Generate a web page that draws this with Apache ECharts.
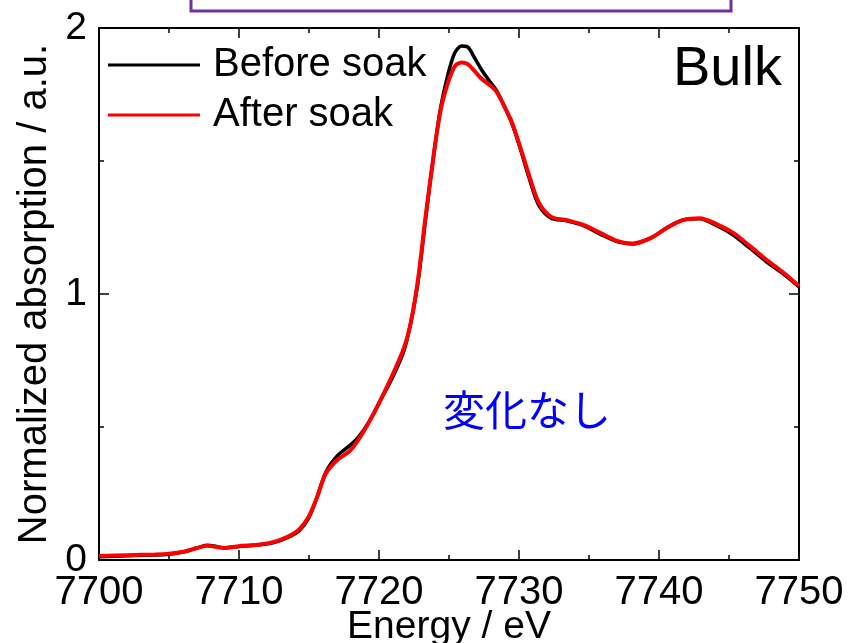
<!DOCTYPE html>
<html><head><meta charset="utf-8">
<script src="https://cdn.jsdelivr.net/npm/echarts@6/dist/echarts.min.js"></script>
<style>html,body{margin:0;padding:0;background:#fff}#c{width:848px;height:643px}</style>
</head><body><div id="c"></div>
<script>
const energy = [7700,7702,7704,7705,7706,7707,7707.7,7708.3,7708.9,7710,7711.5,7712.5,7713.5,7714.3,7715,7715.6,7716.2,7717,7717.9,7718.5,7719.3,7720,7721,7721.8,7722.3,7722.8,7723.3,7723.9,7724.4,7724.9,7725.4,7725.9,7726.3,7726.8,7727.3,7727.9,7728.4,7729.0,7729.5,7730.1,7730.7,7731.4,7732.3,7733.4,7734.6,7735.8,7737,7738.1,7739.4,7740.6,7741.7,7742.9,7744.1,7745.3,7746.5,7747.7,7748.9,7750];
const afterSoak = [0.015,0.018,0.021,0.024,0.031,0.045,0.054,0.050,0.045,0.052,0.058,0.068,0.088,0.115,0.165,0.24,0.325,0.375,0.41,0.45,0.52,0.59,0.70,0.80,0.90,1.06,1.28,1.52,1.69,1.79,1.855,1.87,1.865,1.84,1.81,1.786,1.76,1.70,1.645,1.55,1.45,1.345,1.29,1.278,1.26,1.23,1.20,1.19,1.21,1.25,1.278,1.285,1.263,1.23,1.18,1.128,1.08,1.03];
const beforeSoak = [0.012,0.016,0.019,0.022,0.030,0.045,0.055,0.052,0.046,0.051,0.057,0.066,0.085,0.110,0.160,0.24,0.33,0.39,0.43,0.46,0.52,0.59,0.69,0.79,0.90,1.05,1.27,1.52,1.70,1.82,1.905,1.932,1.93,1.89,1.845,1.80,1.765,1.70,1.64,1.545,1.44,1.335,1.285,1.275,1.257,1.225,1.197,1.188,1.21,1.25,1.278,1.283,1.258,1.222,1.172,1.12,1.075,1.027];
const seriesNames = ['Before soak','After soak'];
const xTicks = [7700,7710,7720,7730,7740,7750];
const yTicks = [0,1,2];

const font = 'Liberation Sans, Arial, sans-serif';
const chart = echarts.init(document.getElementById('c'));
const axisCommon = {
  axisLine:{show:true,onZero:false,lineStyle:{color:'#000',width:2}},
  axisTick:{show:true,inside:true,length:10,lineStyle:{color:'#000',width:1.5}},
  minorTick:{show:true,splitNumber:2,length:5,lineStyle:{color:'#000',width:1.5}},
  splitLine:{show:false}
};
chart.setOption({
  animation:false,
  grid:{left:99,right:49,top:28,bottom:83,containLabel:false,outerBoundsMode:'none'},
  legend:{
    left:103, top:40, orient:'vertical', itemGap:10,
    icon:'rect', itemWidth:92, itemHeight:3,
    textStyle:{fontFamily:font,fontSize:40,color:'#000',padding:[0,0,0,8]},
    data:seriesNames
  },
  xAxis:[
    Object.assign({type:'value',min:xTicks[0],max:xTicks[xTicks.length-1],interval:10,position:'bottom',
      name:'Energy / eV',nameLocation:'middle',nameGap:48,nameMoveOverlap:false,
      nameTextStyle:{fontFamily:font,fontSize:39,color:'#000'},
      axisLabel:{fontFamily:font,fontSize:40,color:'#000',margin:13,formatter:v=>String(v)}},axisCommon),
    Object.assign({type:'value',min:7700,max:7750,interval:10,position:'top',axisLabel:{show:false}},axisCommon)
  ],
  yAxis:[
    Object.assign({type:'value',min:yTicks[0],max:yTicks[yTicks.length-1],interval:1,position:'left',
      name:'Normalized absorption / a.u.',nameLocation:'middle',nameGap:44,nameMoveOverlap:false,
      nameTextStyle:{fontFamily:font,fontSize:40,color:'#000'},
      axisLabel:{fontFamily:font,fontSize:39,color:'#000',margin:12}},axisCommon),
    Object.assign({type:'value',min:0,max:2,interval:1,position:'right',axisLabel:{show:false}},axisCommon)
  ],
  series:[
    {name:seriesNames[0],type:'line',smooth:0.3,showSymbol:false,color:'#000',
     lineStyle:{color:'#000',width:3.5},data:energy.map((e,i)=>[e,beforeSoak[i]])},
    {name:seriesNames[1],type:'line',smooth:0.3,showSymbol:false,color:'#ff0000',
     lineStyle:{color:'#ff0000',width:4},data:energy.map((e,i)=>[e,afterSoak[i]])}
  ],
  graphic:[
    {type:'rect',shape:{x:191,y:-10,width:540,height:21},style:{fill:'#fff',stroke:'#7030A0',lineWidth:3}},
    {type:'text',x:673,y:70,style:{text:'Bulk',fontFamily:font,fontSize:56,fill:'#000',textVerticalAlign:'middle'}},
    {type:'text',x:527,y:410,style:{text:'変化なし',fontFamily:'Noto Sans CJK JP',fontSize:42,fill:'#0000ff',textAlign:'center',textVerticalAlign:'middle'}}
  ]
});
</script></body></html>
